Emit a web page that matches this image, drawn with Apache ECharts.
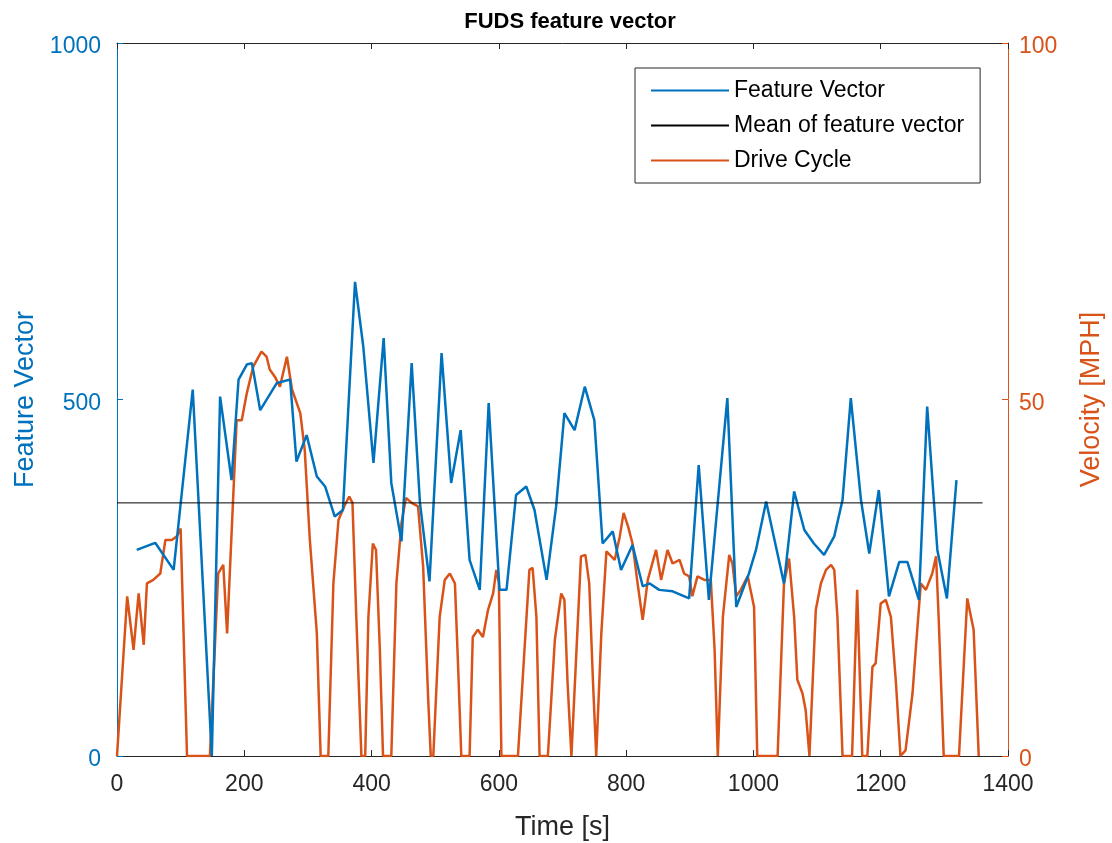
<!DOCTYPE html>
<html>
<head>
    <meta charset="utf-8" />
    <script src="https://cdn.jsdelivr.net/npm/echarts@6/dist/echarts.min.js"></script>
</head>
<body style="margin:0;background:#fff;">
    <div id="main" style="width:1112px;height:843px;"></div>
    <script type="text/javascript">
        // feature vector (blue, left axis)
        const fvTime = [31, 60, 89, 119, 149, 162, 180, 191, 204, 212, 225, 251, 272, 282, 298, 314, 327, 342, 355, 374,
            387, 403, 419, 431, 447, 463, 476, 491, 510, 525, 540, 554, 570, 584, 601, 612, 627, 643, 656, 675,
            690, 703, 719, 735, 750, 763, 779, 792, 810, 826, 837, 852, 873, 899, 914, 930, 959, 973, 993, 1004,
            1020, 1048, 1064, 1080, 1095, 1111, 1127, 1140, 1153, 1169, 1182, 1197, 1213, 1229, 1242, 1260, 1273, 1289, 1304, 1319];
        const fvValue = [289, 299, 261, 514, 0, 504, 387, 528, 549, 551, 485, 523, 528, 413, 450, 392, 378, 336, 345, 665,
            574, 411, 586, 383, 301, 551, 355, 245, 565, 383, 457, 275, 233, 495, 233, 233, 366, 378, 345, 247,
            350, 481, 457, 518, 471, 298, 315, 261, 296, 238, 242, 233, 231, 221, 408, 219, 502, 209, 256, 289,
            357, 242, 371, 317, 298, 282, 308, 359, 502, 359, 284, 373, 224, 272, 272, 219, 490, 289, 221, 387];

        // mean of feature vector
        const meanTime = [0, 1360];
        const meanValue = [355, 355];

        // drive cycle (orange, right axis)
        const dcTime = [0, 16, 26, 34, 42, 47, 57, 68, 76, 86, 94, 100, 110, 146, 159, 167, 173, 188, 196, 204,
            214, 227, 235, 240, 248, 256, 267, 275, 288, 295, 303, 314, 320, 332, 340, 348, 358, 365, 370, 376,
            384, 390, 395, 402, 407, 413, 418, 431, 439, 447, 454, 463, 473, 481, 489, 493, 497, 507, 515, 523,
            531, 536, 541, 554, 559, 567, 575, 583, 591, 596, 600, 604, 630, 648, 653, 659, 664, 677, 688, 698,
            703, 708, 714, 722, 729, 736, 742, 748, 753, 761, 769, 782, 790, 796, 803, 810, 818, 826, 834, 847,
            855, 865, 873, 884, 891, 899, 904, 912, 923, 933, 939, 944, 952, 962, 967, 973, 980, 991, 1001, 1006,
            1038, 1048, 1056, 1064, 1069, 1077, 1082, 1088, 1098, 1106, 1114, 1122, 1127, 1132, 1140, 1155, 1163, 1171, 1179, 1187,
            1192, 1200, 1208, 1216, 1224, 1231, 1239, 1250, 1255, 1263, 1271, 1281, 1287, 1291, 1299, 1323, 1336, 1346, 1354];
        const dcSpeed = [0, 22.4, 14.9, 22.8, 15.6, 24.2, 24.7, 25.6, 30.3, 30.3, 30.8, 31.9, 0, 0, 25.6, 26.8, 17.2, 47.1, 47.1, 50.9,
            54.6, 56.7, 56.0, 54.2, 53.2, 51.8, 56.0, 51.4, 48.1, 42.9, 30.3, 17.2, 0, 0, 24.2, 33.1, 35.2, 36.4, 35.5, 19.5,
            0, 0, 19.5, 29.8, 28.9, 14.9, 0, 0, 24.2, 32.7, 36.2, 35.5, 35.0, 26.6, 7.9, 0, 0, 19.5, 24.7, 25.6,
            24.2, 12.5, 0, 0, 16.7, 17.7, 16.7, 20.5, 22.8, 26.1, 24.3, 0, 0, 26.1, 26.4, 19.5, 0, 0, 16.3, 22.8,
            21.9, 10.2, 0, 14.9, 28.0, 28.2, 24.2, 10.2, 0, 17.2, 28.7, 27.5, 30.8, 34.1, 32.2, 29.8, 24.2, 19.1, 24.7, 28.9,
            24.7, 28.9, 27.0, 27.5, 25.6, 25.2, 22.4, 25.2, 24.7, 24.7, 14.9, 0, 19.5, 28.2, 27.0, 22.4, 23.3, 25.2, 20.9, 0,
            0, 24.2, 27.7, 19.5, 10.7, 8.8, 6.5, 0, 20.5, 24.2, 26.1, 26.8, 26.1, 19.5, 0, 0, 23.3, 0, 0, 12.5,
            13.0, 21.4, 21.9, 19.5, 10.2, 0, 0.8, 8.8, 14.9, 24.2, 23.3, 25.6, 28.0, 19.5, 0, 0, 22.1, 17.7, 0];

        const BLUE = '#0072BD';
        const ORANGE = '#D95319';
        const FONT = "'Liberation Sans', Arial, sans-serif";

        const zip = (xs, ys) => xs.map((x, i) => [x, ys[i]]);
        const plain = v => String(v);

        const chart = echarts.init(document.getElementById('main'));
        chart.setOption({
            animation: false,
            backgroundColor: '#fff',
            textStyle: { fontFamily: FONT },
            title: {
                text: 'FUDS feature vector',
                left: 565,
                textAlign: 'center',
                top: 6,
                textStyle: { fontSize: 22, fontWeight: 'bold', color: '#000', fontFamily: FONT }
            },
            grid: { left: 117, right: 104, top: 43, bottom: 87, outerBoundsMode: 'none' },
            legend: {
                orient: 'vertical',
                left: 635,
                top: 68,
                padding: [11, 16, 11, 16],
                itemGap: 12,
                itemWidth: 78,
                itemHeight: 2,
                icon: 'rect',
                backgroundColor: '#fff',
                borderColor: '#262626',
                borderWidth: 1,
                borderRadius: 0,
                textStyle: { fontSize: 23, color: '#000', fontFamily: FONT },
                data: ['Feature Vector', 'Mean of feature vector', 'Drive Cycle']
            },
            xAxis: [{
                type: 'value',
                min: 0, max: 1400, interval: 200,
                name: 'Time [s]',
                nameLocation: 'middle',
                nameGap: 58,
                nameTextStyle: { fontSize: 27, color: '#262626', fontFamily: FONT },
                axisLine: { onZero: false, lineStyle: { color: '#262626' } },
                axisTick: { inside: true, length: 6, lineStyle: { color: '#262626' } },
                axisLabel: { fontSize: 23, color: '#262626', margin: 17, formatter: plain, fontFamily: FONT },
                splitLine: { show: false }
            }, {
                type: 'value',
                position: 'top',
                min: 0, max: 1400, interval: 200,
                axisLine: { show: true, onZero: false, lineStyle: { color: '#262626' } },
                axisTick: { show: true, inside: true, length: 6, lineStyle: { color: '#262626' } },
                axisLabel: { show: false },
                splitLine: { show: false }
            }],
            yAxis: [{
                type: 'value',
                min: 0, max: 1000, interval: 500,
                name: 'Feature Vector',
                nameLocation: 'middle',
                nameGap: 76,
                nameTextStyle: { fontSize: 27, color: BLUE, fontFamily: FONT },
                axisLine: { show: true, onZero: false, lineStyle: { color: BLUE } },
                axisTick: { show: true, inside: true, length: 6, lineStyle: { color: BLUE } },
                axisLabel: { fontSize: 23, color: BLUE, margin: 16, verticalAlign: 'top', lineHeight: 8, formatter: plain, fontFamily: FONT },
                splitLine: { show: false }
            }, {
                type: 'value',
                position: 'right',
                min: 0, max: 100, interval: 50,
                name: 'Velocity [MPH]',
                nameLocation: 'middle',
                nameGap: 70,
                nameRotate: 90,
                nameTextStyle: { fontSize: 27, color: ORANGE, fontFamily: FONT },
                axisLine: { show: true, onZero: false, lineStyle: { color: ORANGE } },
                axisTick: { show: true, inside: true, length: 6, lineStyle: { color: ORANGE } },
                axisLabel: { fontSize: 23, color: ORANGE, margin: 11, verticalAlign: 'top', lineHeight: 8, formatter: plain, fontFamily: FONT },
                splitLine: { show: false }
            }],
            series: [{
                name: 'Feature Vector',
                type: 'line',
                xAxisIndex: 0, yAxisIndex: 0,
                data: zip(fvTime, fvValue),
                symbol: 'none',
                lineStyle: { color: BLUE, width: 2.5 },
                itemStyle: { color: BLUE },
                z: 3
            }, {
                name: 'Mean of feature vector',
                type: 'line',
                xAxisIndex: 0, yAxisIndex: 0,
                data: zip(meanTime, meanValue),
                symbol: 'none',
                lineStyle: { color: '#000', width: 1 },
                itemStyle: { color: '#000' },
                z: 4
            }, {
                name: 'Drive Cycle',
                type: 'line',
                xAxisIndex: 0, yAxisIndex: 1,
                data: zip(dcTime, dcSpeed),
                symbol: 'none',
                lineStyle: { color: ORANGE, width: 2.5 },
                itemStyle: { color: ORANGE },
                z: 2
            }]
        });
    </script>
</body>
</html>
